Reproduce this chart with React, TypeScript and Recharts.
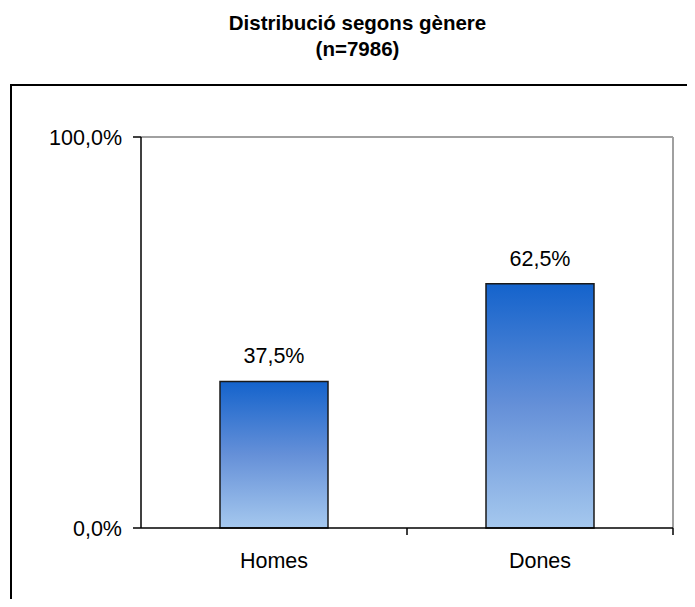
import React from 'react';
import { BarChart, Bar, XAxis, YAxis, CartesianGrid, LabelList } from 'recharts';

const categories = ['Homes', 'Dones'];
const percentages = [37.5, 62.5];
const yTicks = [0, 100];

const data = categories.map((name, i) => ({ name, value: percentages[i] }));

const FONT = '"Liberation Sans", Arial, sans-serif';
const LABEL_GAP = 25;

const fmt = (v: number) => v.toFixed(1).replace('.', ',') + '%';

// category label plus a small tick on the right edge of each category band
const CategoryTick = (props: any) => {
  const { x, y, payload } = props;
  const half = payload && payload.offset ? payload.offset : 133;
  const axisY = y - LABEL_GAP;
  return (
    <g>
      <line x1={x + half} x2={x + half} y1={axisY} y2={axisY + 7} stroke="#000" strokeWidth={1.5} />
      <text x={x} y={y} dy="0.71em" textAnchor="middle" fill="#000" fontSize={21.5} fontFamily={FONT}>
        {payload.value}
      </text>
    </g>
  );
};

const App: React.FC = () => {
  return (
    <div style={{ position: 'relative', width: 695, height: 607, margin: -8, overflow: 'hidden', background: '#fff', fontFamily: FONT }}>
      <div
        style={{
          position: 'absolute',
          top: 10,
          left: 0,
          width: 715,
          textAlign: 'center',
          fontWeight: 'bold',
          fontSize: 20.5,
          lineHeight: '26px',
          color: '#000',
        }}
      >
        Distribució segons gènere
        <br />
        (n=7986)
      </div>
      {/* frame around the chart, runs off the right and bottom edges */}
      <div
        style={{
          position: 'absolute',
          left: 10,
          top: 84,
          width: 720,
          height: 560,
          border: '2.5px solid #000',
          boxSizing: 'border-box',
        }}
      />
      <div style={{ position: 'absolute', left: 0, top: 0 }}>
        <BarChart
          width={695}
          height={607}
          data={data}
          margin={{ top: 137, right: 22, bottom: 39, left: 81 }}
          barSize={108}
        >
          <defs>
            <linearGradient id="barFill" x1="0" y1="0" x2="0" y2="1">
              <stop offset="0%" stopColor="#1463cc" />
              <stop offset="50%" stopColor="#6590d8" />
              <stop offset="100%" stopColor="#a5c8ee" />
            </linearGradient>
          </defs>
          <CartesianGrid
            stroke="#a0a0a0"
            strokeWidth={2}
            horizontalCoordinatesGenerator={({ offset }: any) => [offset.top]}
            verticalCoordinatesGenerator={({ offset }: any) => [offset.left + offset.width]}
          />
          <XAxis
            dataKey="name"
            axisLine={{ stroke: '#000', strokeWidth: 1.5 }}
            tickLine={false}
            tickSize={0}
            tickMargin={LABEL_GAP}
            height={40}
            tick={<CategoryTick />}
          />
          <YAxis
            domain={[0, 100]}
            ticks={yTicks}
            tickFormatter={fmt}
            width={60}
            axisLine={{ stroke: '#000', strokeWidth: 1.5 }}
            tickLine={{ stroke: '#000', strokeWidth: 1.5 }}
            tickSize={8}
            tickMargin={11}
            tick={{ fill: '#000', fontSize: 21.5, fontFamily: FONT }}
          />
          <Bar dataKey="value" fill="url(#barFill)" stroke="#1a1a1a" strokeWidth={1.5} isAnimationActive={false}>
            <LabelList
              dataKey="value"
              position="top"
              offset={18}
              formatter={(v: any) => fmt(Number(v))}
              style={{ fill: '#000', fontSize: 21.5, fontFamily: FONT }}
            />
          </Bar>
        </BarChart>
      </div>
    </div>
  );
};

export default App;
